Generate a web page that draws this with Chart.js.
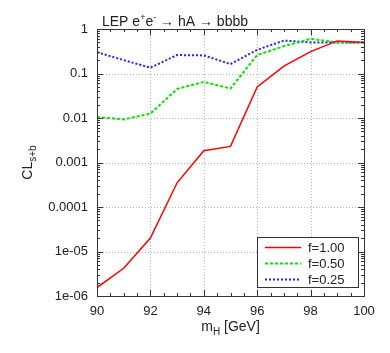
<!DOCTYPE html>
<html>
<head>
<meta charset="utf-8">
<script src="https://cdn.jsdelivr.net/npm/chart.js@4/dist/chart.umd.min.js"></script>
<style>
  html, body { margin: 0; padding: 0; background: #fff; }
  #wrap { width: 390px; height: 353px; position: relative; }
</style>
</head>
<body>
<div id="wrap"><canvas id="clsChart"></canvas></div>
<script>
// m_H points (GeV)
const massPoints = [90, 91, 92, 93, 94, 95, 96, 97, 98, 99, 100]
// CL_s+b for each hA fraction
const clF100 = [1.55e-6, 4.2e-6, 2.0e-5, 3.5e-4, 1.84e-3, 2.3e-3, 0.050, 0.147, 0.31, 0.54, 0.50]
const clF050 = [0.0105, 0.0093, 0.0125, 0.045, 0.065, 0.046, 0.26, 0.41, 0.60, 0.50, 0.50]
const clF025 = [0.30, 0.20, 0.135, 0.26, 0.255, 0.163, 0.34, 0.55, 0.50, 0.50, 0.50]
const seriesLabels = ['f=1.00', 'f=0.50', 'f=0.25']
const yTickValues = [1e-6, 1e-5, 1e-4, 1e-3, 1e-2, 0.1, 1]
const yTickLabels = ['1e-06', '1e-05', '0.0001', '0.001', '0.01', '0.1', '1']
const xTickValues = [90, 92, 94, 96, 98, 100]

const FONT = '"Liberation Sans", Arial, sans-serif'
const TXT = '#222'

function toPoints(vals) {
  return massPoints.map((m, i) => ({ x: m, y: vals[i] }))
}

// dotted grid under the lines
const gridPlugin = {
  id: 'dotgrid',
  beforeDatasetsDraw(chart) {
    const { ctx, chartArea: a, scales } = chart
    ctx.save()
    ctx.strokeStyle = '#b4b4b4'
    ctx.lineWidth = 1
    ctx.setLineDash([1, 2])
    ctx.beginPath()
    xTickValues.slice(1, -1).forEach(v => {
      const px = Math.round(scales.x.getPixelForValue(v)) + 0.5
      ctx.moveTo(px, a.top); ctx.lineTo(px, a.bottom)
    })
    yTickValues.slice(1, -1).forEach(v => {
      const py = Math.round(scales.y.getPixelForValue(v)) + 0.5
      ctx.moveTo(a.left, py); ctx.lineTo(a.right, py)
    })
    ctx.stroke()
    ctx.restore()
  }
}

// frame, mirrored ticks, minor ticks, titles, inset legend
const decorPlugin = {
  id: 'decor',
  afterDraw(chart) {
    const { ctx, chartArea: a, scales } = chart
    const xs = scales.x, ys = scales.y
    ctx.save()
    ctx.strokeStyle = '#333'
    ctx.lineWidth = 1
    // ticks
    ctx.beginPath()
    for (let v = 90; v <= 100.001; v += 0.5) {
      const px = Math.round(xs.getPixelForValue(v)) + 0.5
      const len = Math.abs(v % 2) < 1e-6 ? 6 : 3
      ctx.moveTo(px, a.bottom); ctx.lineTo(px, a.bottom - len)
      ctx.moveTo(px, a.top); ctx.lineTo(px, a.top + len)
    }
    for (let e = -6; e <= 0; e++) {
      for (let m = 1; m <= 9; m++) {
        const v = m * Math.pow(10, e)
        if (v > 1.0001) break
        const py = Math.round(ys.getPixelForValue(v)) + 0.5
        const len = m === 1 ? 6 : 3
        ctx.moveTo(a.left, py); ctx.lineTo(a.left + len, py)
        ctx.moveTo(a.right, py); ctx.lineTo(a.right - len, py)
      }
    }
    ctx.stroke()
    // frame
    ctx.strokeRect(Math.round(a.left) + 0.5, Math.round(a.top) + 0.5,
      Math.round(a.right - a.left), Math.round(a.bottom - a.top))

    // title
    ctx.fillStyle = TXT
    ctx.textBaseline = 'alphabetic'
    ctx.textAlign = 'left'
    let x = 102
    const by = 26
    const seg = (t, size, dy) => {
      ctx.font = size + 'px ' + FONT
      ctx.fillText(t, x, by + dy)
      x += ctx.measureText(t).width
    }
    seg('LEP e', 14, 0); seg('+', 9, -6); seg('e', 14, 0); seg('-', 9, -6)
    seg(' \u2192 hA \u2192 bbbb', 14, 0)

    // x axis title
    ctx.font = '14px ' + FONT
    const m = 'm', sub = 'H', rest = ' [GeV]'
    const wm = ctx.measureText(m).width
    const wr = ctx.measureText(rest).width
    ctx.font = '10px ' + FONT
    const ws = ctx.measureText(sub).width
    let tx = (a.left + a.right) / 2 - (wm + ws + wr) / 2
    ctx.font = '14px ' + FONT
    ctx.fillText(m, tx, 331); tx += wm
    ctx.font = '10px ' + FONT
    ctx.fillText(sub, tx, 335); tx += ws
    ctx.font = '14px ' + FONT
    ctx.fillText(rest, tx, 331)

    // y axis title (rotated)
    ctx.save()
    ctx.translate(32, (a.top + a.bottom) / 2)
    ctx.rotate(-Math.PI / 2)
    ctx.font = '14px ' + FONT
    const wc = ctx.measureText('CL').width
    ctx.font = '10px ' + FONT
    const wsb = ctx.measureText('s+b').width
    let ry = -(wc + wsb) / 2
    ctx.font = '14px ' + FONT
    ctx.fillText('CL', ry, 0); ry += wc
    ctx.font = '10px ' + FONT
    ctx.fillText('s+b', ry, 4)
    ctx.restore()

    // legend box
    const lx = 257, ly = 237, lw = 101, lh = 50
    ctx.fillStyle = '#fff'
    ctx.fillRect(lx, ly, lw, lh)
    ctx.strokeStyle = '#333'
    ctx.strokeRect(lx + 0.5, ly + 0.5, lw, lh)
    chart.data.datasets.forEach((ds, i) => {
      const yy = ly + 10 + i * 16 + 0.5
      ctx.strokeStyle = ds.borderColor
      ctx.lineWidth = ds.borderWidth
      ctx.setLineDash(ds.borderDash || [])
      ctx.beginPath(); ctx.moveTo(lx + 8, yy); ctx.lineTo(lx + 44, yy); ctx.stroke()
      ctx.setLineDash([])
      ctx.fillStyle = TXT
      ctx.font = '13px ' + FONT
      ctx.textBaseline = 'middle'
      ctx.fillText(ds.label, lx + 51, yy + 1)
    })
    ctx.restore()
  }
}

new Chart(document.getElementById('clsChart'), {
  type: 'line',
  data: {
    datasets: [
      { label: seriesLabels[0], data: toPoints(clF100), borderColor: '#ff0000', borderWidth: 1.5 },
      { label: seriesLabels[1], data: toPoints(clF050), borderColor: '#00e600', borderWidth: 2, borderDash: [3, 2] },
      { label: seriesLabels[2], data: toPoints(clF025), borderColor: '#2020ff', borderWidth: 2, borderDash: [2, 2] },
    ],
  },
  options: {
    animation: false,
    responsive: true,
    maintainAspectRatio: false,
    elements: { point: { radius: 0 }, line: { tension: 0 } },
    layout: { padding: { top: 29, right: 26, left: 0, bottom: 0 } },
    scales: {
      x: {
        type: 'linear', min: 90, max: 100,
        afterBuildTicks: s => { s.ticks = xTickValues.map(v => ({ value: v })) },
        afterFit: s => { s.height = 57 },
        grid: { display: false, drawTicks: false },
        border: { display: false },
        ticks: { padding: 8, color: TXT, font: { family: FONT, size: 13 }, maxRotation: 0 },
      },
      y: {
        type: 'logarithmic', min: 1e-6, max: 1,
        afterBuildTicks: s => { s.ticks = yTickValues.map(v => ({ value: v })) },
        afterFit: s => { s.width = 97 },
        grid: { display: false, drawTicks: false },
        border: { display: false },
        ticks: {
          padding: 9, color: TXT, font: { family: FONT, size: 13 },
          callback: v => { const i = yTickValues.indexOf(v); return i >= 0 ? yTickLabels[i] : '' },
        },
      },
    },
    plugins: { legend: { display: false }, tooltip: { enabled: false } },
  },
  plugins: [gridPlugin, decorPlugin],
})
</script>
</body>
</html>
